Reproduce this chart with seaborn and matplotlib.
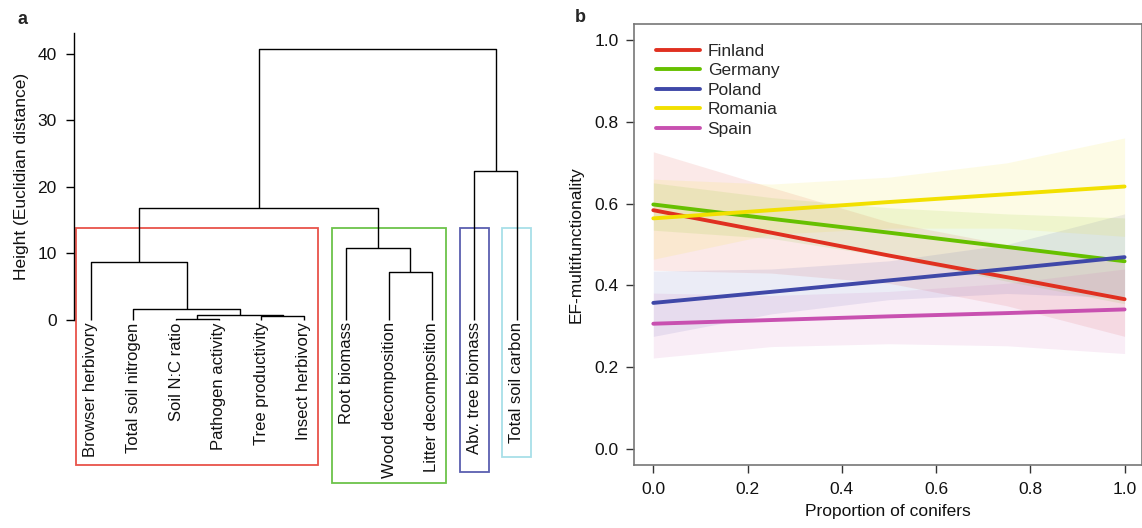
import numpy as np
import pandas as pd
import matplotlib
matplotlib.use('Agg')
import matplotlib.pyplot as plt
from matplotlib.patches import Rectangle
import seaborn as sns

# -----------------------------
# Panel a: dendrogram data
# -----------------------------
leaf_labels = ["Browser herbivory", "Total soil nitrogen", "Soil N:C ratio",
               "Pathogen activity", "Tree productivity", "Insect herbivory",
               "Root biomass", "Wood decomposition", "Litter decomposition",
               "Abv. tree biomass", "Total soil carbon"]
# merges: (child a, child b, height); ids >= 11 are earlier merges
merge_a = [2, 4, 11, 1, 7, 0, 6, 16, 9, 18]
merge_b = [3, 5, 12, 13, 8, 14, 15, 17, 10, 19]
merge_h = [0.1, 0.6, 0.8, 1.7, 7.2, 8.7, 10.8, 16.8, 22.4, 40.8]

group_first = [0, 6, 9, 10]
group_last = [5, 8, 9, 10]
group_colors = ["#e8534a", "#6cc34a", "#5a5fb0", "#a8dfe8"]
group_bottom = [-21.8, -24.5, -22.9, -20.6]

# -----------------------------
# Panel b: regression lines
# -----------------------------
countries = ["Finland", "Germany", "Poland", "Romania", "Spain"]
country_colors = ["#e03020", "#66c000", "#3f48a8", "#f2e000", "#c850b0"]
conifers = [0.0, 0.25, 0.5, 0.75, 1.0]
fit_finland = [0.584, 0.529, 0.473, 0.420, 0.366]
fit_germany = [0.598, 0.563, 0.529, 0.494, 0.459]
fit_poland = [0.357, 0.384, 0.412, 0.440, 0.469]
fit_romania = [0.564, 0.584, 0.604, 0.623, 0.642]
fit_spain = [0.306, 0.315, 0.324, 0.332, 0.341]
lo_finland = [0.437, 0.430, 0.405, 0.350, 0.275]
hi_finland = [0.727, 0.640, 0.555, 0.500, 0.455]
lo_germany = [0.535, 0.515, 0.470, 0.410, 0.355]
hi_germany = [0.651, 0.615, 0.590, 0.575, 0.565]
lo_poland = [0.275, 0.330, 0.365, 0.380, 0.370]
hi_poland = [0.435, 0.440, 0.460, 0.500, 0.575]
lo_romania = [0.464, 0.525, 0.540, 0.540, 0.520]
hi_romania = [0.660, 0.648, 0.665, 0.700, 0.761]
lo_spain = [0.222, 0.250, 0.257, 0.252, 0.233]
hi_spain = [0.381, 0.375, 0.385, 0.405, 0.440]

fits = [fit_finland, fit_germany, fit_poland, fit_romania, fit_spain]
lows = [lo_finland, lo_germany, lo_poland, lo_romania, lo_spain]
highs = [hi_finland, hi_germany, hi_poland, hi_romania, hi_spain]

sns.set_theme(style="white")
plt.rcParams['font.family'] = ['Liberation Sans', 'DejaVu Sans']
plt.rcParams['font.size'] = 12

fig = plt.figure(figsize=(11.42, 5.28), dpi=100)
W, H = 1142, 528

def px_axes(left, top, right, bottom):
    return fig.add_axes([left / W, 1 - bottom / H, (right - left) / W, (bottom - top) / H])

# ----- panel a -----
ax1 = px_axes(73.5, 33.3, 538, 320)
n = len(leaf_labels)
xpos = {i: float(i) for i in range(n)}
hpos = {i: 0.0 for i in range(n)}
for k, (a, b, h) in enumerate(zip(merge_a, merge_b, merge_h)):
    xa, xb = xpos[a], xpos[b]
    ax1.plot([xa, xa, xb, xb], [hpos[a], h, h, hpos[b]], color="black", lw=1.0,
             solid_capstyle="butt", clip_on=False)
    xpos[n + k] = (xa + xb) / 2
    hpos[n + k] = h

for i, lab in enumerate(leaf_labels):
    ax1.text(i, -0.35, lab, rotation=90, ha="center", va="top", fontsize=12, color="#111111")

for g0, g1, col, bot in zip(group_first, group_last, group_colors, group_bottom):
    ax1.add_patch(Rectangle((g0 - 0.34, bot), (g1 - g0) + 0.68, 13.83 - bot, fill=False,
                            edgecolor=col, lw=1.3, clip_on=False, zorder=0))

ax1.set_xlim(-0.408, 10.495)
ax1.set_ylim(0, 43.1)
ax1.set_yticks([0, 10, 20, 30, 40])
ax1.set_xticks([])
for s in ["top", "right", "bottom"]:
    ax1.spines[s].set_visible(False)
ax1.spines["left"].set_color("black")
ax1.spines["left"].set_linewidth(1.0)
ax1.tick_params(axis="y", left=True, length=6, width=1.0, color="black", pad=6,
                labelsize=12.5, labelcolor="#111111")
ax1.set_ylabel("Height (Euclidian distance)", fontsize=12.5, labelpad=6, color="#111111")
fig.text(22 / W, 1 - 19 / H, "a", fontsize=13, fontweight="bold", ha="center", va="center")

# ----- panel b -----
ax2 = px_axes(634, 24, 1142, 465)
rows = []
for c, f in zip(countries, fits):
    for xv, yv in zip(conifers, f):
        rows.append({"conifers": xv, "ef": yv, "country": c})
df = pd.DataFrame(rows)

for col, lo, hi in zip(country_colors, lows, highs):
    ax2.fill_between(conifers, lo, hi, color=col, alpha=0.1, lw=0, zorder=1)

sns.lineplot(data=df, x="conifers", y="ef", hue="country", palette=country_colors,
             hue_order=countries, lw=2.8, ax=ax2, zorder=3, errorbar=None)

ax2.set_xlim(-0.041, 1.037)
ax2.set_ylim(-0.04, 1.04)
ax2.set_xticks([0.0, 0.2, 0.4, 0.6, 0.8, 1.0])
ax2.set_yticks([0.0, 0.2, 0.4, 0.6, 0.8, 1.0])
ax2.set_xticklabels(["0.0", "0.2", "0.4", "0.6", "0.8", "1.0"])
ax2.set_yticklabels(["0.0", "0.2", "0.4", "0.6", "0.8", "1.0"])
for s in ax2.spines.values():
    s.set_color("#777777")
    s.set_linewidth(1.2)
ax2.tick_params(axis="both", length=6, width=1.0, color="#333333", labelsize=12.5,
                labelcolor="#111111", bottom=True, left=True)
ax2.tick_params(axis="x", pad=6)
ax2.tick_params(axis="y", pad=5)
ax2.set_xlabel("Proportion of conifers", fontsize=12.5, labelpad=5, color="#111111")
ax2.set_ylabel("EF-multifunctionality", fontsize=12.5, labelpad=8, color="#111111")

leg = ax2.legend(loc="upper left", bbox_to_anchor=(0.0442, 0.955), frameon=False,
                 borderaxespad=0, borderpad=0, handlelength=2.5, handletextpad=0.45,
                 labelspacing=0.25, fontsize=12.5)
for line in leg.get_lines():
    line.set_linewidth(2.8)
fig.text(580 / W, 1 - 18 / H, "b", fontsize=13, fontweight="bold", ha="center", va="center")

fig.savefig("out.png", dpi=100)
